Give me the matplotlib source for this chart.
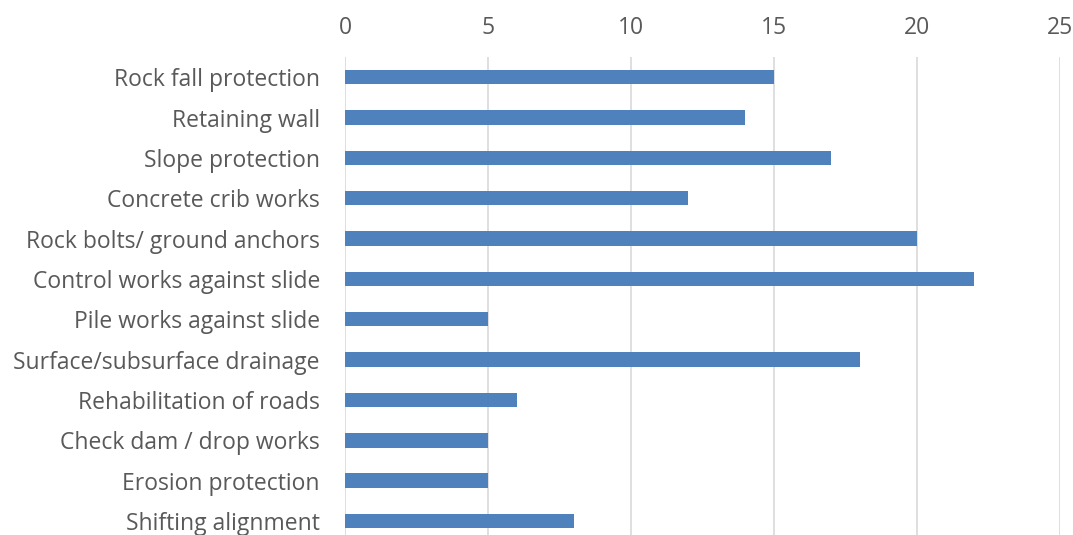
import matplotlib
matplotlib.use("Agg")
import matplotlib.pyplot as plt

categories = ["Rock fall protection", "Retaining wall", "Slope protection",
              "Concrete crib works", "Rock bolts/ ground anchors",
              "Control works against slide", "Pile works against slide",
              "Surface/subsurface drainage", "Rehabilitation of roads",
              "Check dam / drop works", "Erosion protection", "Shifting alignment"]
values = [15, 14, 17, 12, 20, 22, 5, 18, 6, 5, 5, 8]
xticks = [0, 5, 10, 15, 20, 25]

plt.rcParams['font.family'] = ['Open Sans', 'DejaVu Sans']

fig = plt.figure(figsize=(10.73, 5.35), dpi=100)
# axes runs past the bottom edge, like the cropped original
ax = fig.add_axes([0.3215, -0.0114, 0.6665, 0.9048])

pos = list(range(len(categories)))
ax.barh(pos, values, height=0.36, color="#4F81BD")
ax.set_ylim(len(categories) - 0.5, -0.5)
ax.set_xlim(0, 25)
ax.set_xticks(xticks)
ax.set_yticks(pos)
ax.set_yticklabels(categories)
ax.xaxis.tick_top()
ax.tick_params(axis='both', length=0, labelsize=16.5, colors="#595959")
ax.tick_params(axis='x', pad=12)
ax.tick_params(axis='y', pad=18)
ax.grid(axis='x', color="#D9D9D9", linewidth=1.2)
ax.set_axisbelow(True)
for s in ax.spines.values():
    s.set_visible(False)

fig.savefig("out.png", dpi=100)
